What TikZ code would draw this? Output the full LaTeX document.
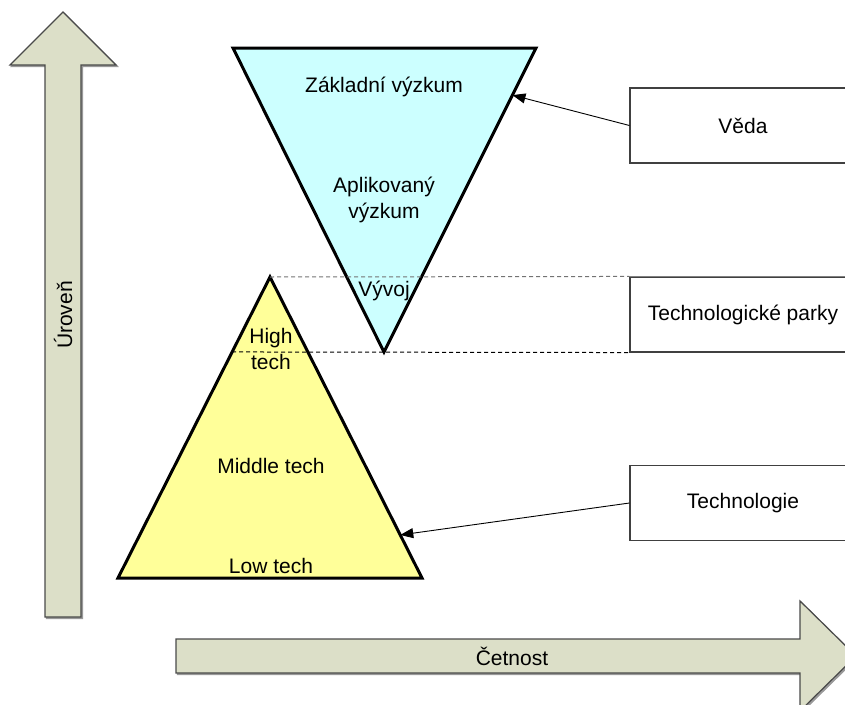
\documentclass[tikz,border=0pt]{standalone}
\usepackage{fontspec}
\setmainfont{Liberation Sans}
\usetikzlibrary{arrows.meta,calc}
\definecolor{arrfill}{HTML}{DCDFC8}
\definecolor{arredge}{HTML}{4A4A4A}
\definecolor{cyanfill}{HTML}{CCFFFF}
\definecolor{yelfill}{HTML}{FFFF99}
\begin{document}
\begin{tikzpicture}[x=1pt,y=-1pt,
  lbl/.style={font=\fontsize{21}{25.5}\selectfont, align=center, inner sep=0pt},
  bigarrow/.style={fill=arrfill, draw=arredge, line width=1.2pt, line join=miter},
  arrowshadow/.style={fill=black!40, draw=black!40, line width=1.2pt},
  tri/.style={draw=black, line width=3pt, line join=miter},
  sidebox/.style={draw=black!75, line width=1.1pt, fill=white, minimum width=226pt,
    minimum height=75pt, inner sep=0pt, font=\fontsize{21}{25.5}\selectfont},
  link/.style={-{Triangle[length=13pt,width=10pt]}, line width=0.9pt},
  guide/.style={dash pattern=on 4pt off 3pt, line width=1pt}]
\useasboundingbox (0,0) rectangle (845,704);
\clip (0,0) rectangle (845,704);
% big arrows
\fill[arrowshadow] (64.5,13.5) -- (117.5,66.5) -- (82.5,66.5) -- (82.5,618.5) -- (46.5,618.5) -- (46.5,66.5) -- (11.5,66.5) -- cycle;
\draw[bigarrow] (63,12) -- (116,65) -- (81,65) -- (81,617) -- (45,617) -- (45,65) -- (10,65) -- cycle;
\fill[arrowshadow] (177.5,640.5) -- (801.5,640.5) -- (801.5,602.5) -- (857.5,657.5) -- (801.5,712.5) -- (801.5,674.5) -- (177.5,674.5) -- cycle;
\draw[bigarrow] (176,639) -- (800,639) -- (800,601) -- (856,656) -- (800,711) -- (800,673) -- (176,673) -- cycle;
\node[lbl, rotate=90] (uroven) at (63,315) {Úroveň};
\node[lbl] (cetnost) at (512,656) {Četnost};
% triangles
\coordinate (c1) at (233,48);
\coordinate (c2) at (536,48);
\coordinate (c3) at (384,352);
\coordinate (y1) at (270,277);
\coordinate (y2) at (422,578);
\coordinate (y3) at (118,578);
\filldraw[tri, fill=cyanfill] (c1) -- (c2) -- (c3) -- cycle;
\filldraw[tri, fill=yelfill] (y1) -- (y2) -- (y3) -- cycle;
\node[lbl] (zaklad) at (384,87) {Základní výzkum};
\node[lbl] (aplik) at (384,200) {Aplikovaný\\výzkum};
\node[lbl] (vyvoj) at (384,291) {Vývoj};
\node[lbl] (high) at (271,349) {High\\tech};
\node[lbl] (middle) at (271,466) {Middle tech};
\node[lbl] (low) at (271,566) {Low tech};
% side boxes
\node[sidebox] (veda) at (743,125.5) {Věda};
\node[sidebox] (parky) at (743,314.5) {Technologické parky};
\node[sidebox] (techn) at (743,503) {Technologie};
\draw[black!50, line width=1.3pt] (parky.north west) -- (parky.north east);
% guides
\coordinate (lowleft) at ($(y1)!0.249!(y3)$);
\draw[guide, draw=black!55] (y1) -- (parky.north west);
\draw[guide, draw=black] (lowleft) -- (parky.south west);
% links
\coordinate (vtgt) at ($(c2)!0.155!(c3)$);
\coordinate (ttgt) at ($(y1)!0.857!(y2)$);
\draw[link] (veda.west) -- (vtgt);
\draw[link] (techn.west) -- (ttgt);
\end{tikzpicture}
\end{document}
